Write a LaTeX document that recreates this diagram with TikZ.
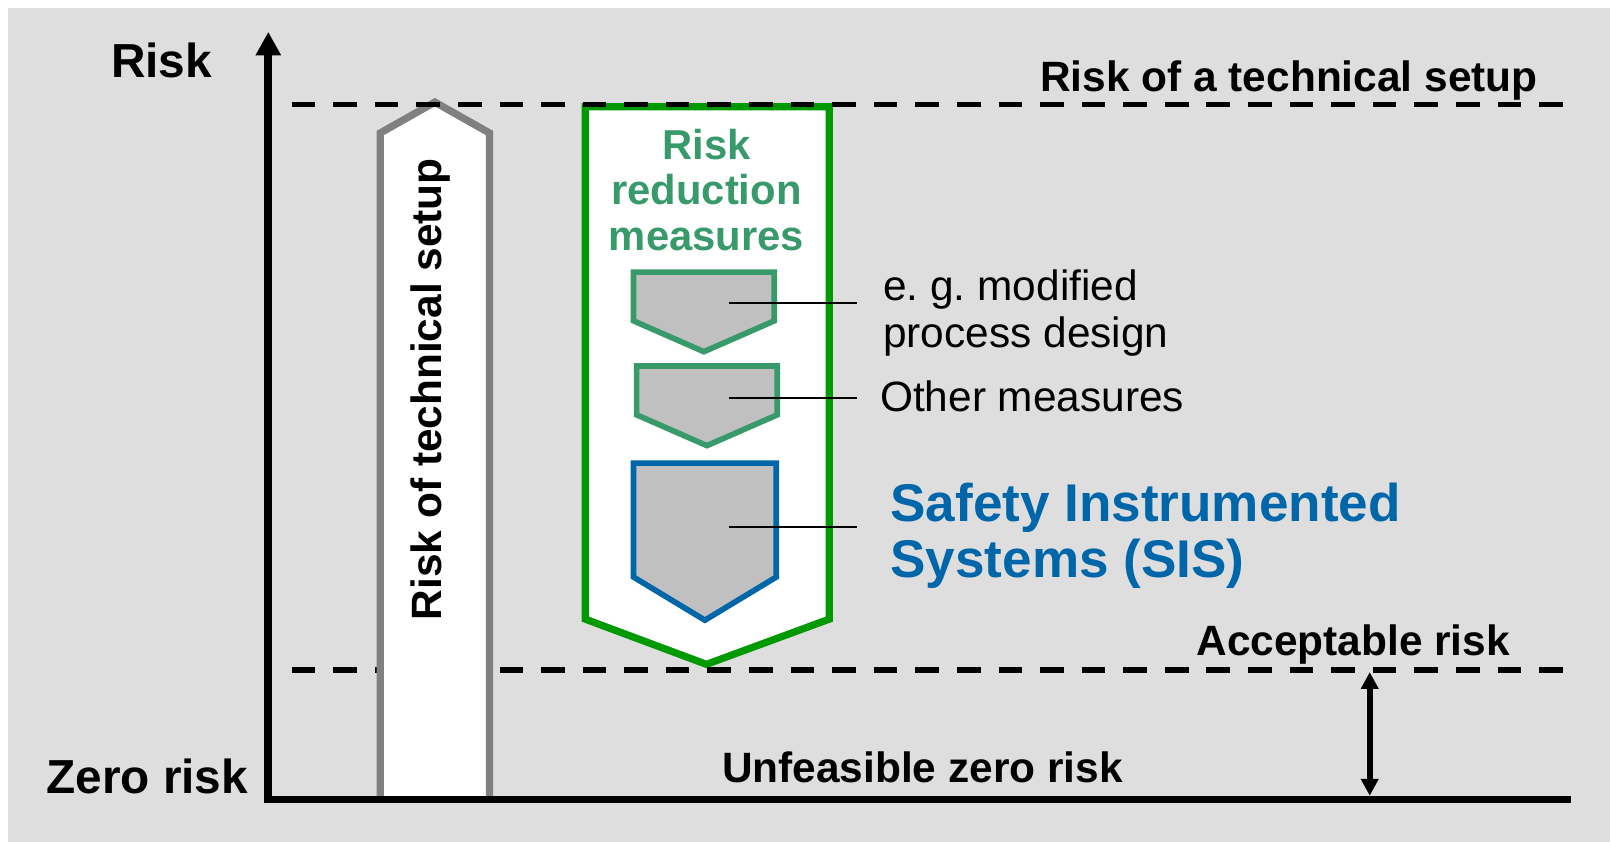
\documentclass[tikz,border=0pt]{standalone}
\usepackage{fontspec}
\setmainfont{Liberation Sans}
\usetikzlibrary{arrows.meta}
\definecolor{bgc}{RGB}{222,222,222}
\definecolor{arrowgray}{RGB}{128,128,128}
\definecolor{boxgreen}{RGB}{0,153,0}
\definecolor{txtgreen}{RGB}{56,154,106}
\definecolor{shapefill}{RGB}{192,192,192}
\definecolor{sisblue}{RGB}{0,102,170}
\begin{document}
\frenchspacing
\begin{tikzpicture}[x=1pt,y=-1pt,
  lbl/.style={inner sep=0pt, font=\fontsize{41.3}{45}\selectfont\bfseries},
  biglbl/.style={inner sep=0pt, font=\fontsize{46.5}{50}\selectfont\bfseries},
  plain/.style={inner sep=0pt, font=\fontsize{41.3}{45.5}\selectfont, align=left},
  dline/.style={line width=5pt, dash pattern=on 23pt off 17.5pt},
  pent/.style={line width=5.5pt, fill=shapefill, line join=miter},
  leader/.style={line width=1.8pt, black},
  axisline/.style={line width=7.5pt, line join=miter}]
\useasboundingbox (0,0) rectangle (1568,820);
\fill[bgc] (8,8) rectangle (1568,820);

% green risk reduction box
\draw[boxgreen, line width=7pt, fill=white, line join=miter]
  (570,104) -- (807.6,104) -- (807.6,603) -- (688,647) -- (570,603) -- cycle;
\node[inner sep=0pt, font=\fontsize{40.7}{44.5}\selectfont\bfseries, text=txtgreen, align=center]
  (rrm) at (688,185) {Risk\\reduction\\measures};

% small measure shapes
\draw[pent, draw=txtgreen] (617,265) -- (754,265) -- (754,312.5) -- (685.5,342.5) -- (617,312.5) -- cycle;
\draw[pent, draw=txtgreen] (620,356.5) -- (757,356.5) -- (757,404) -- (688.5,434) -- (620,404) -- cycle;
\draw[pent, draw=sisblue] (617,451) -- (756,451) -- (756,562) -- (686.5,604) -- (617,562) -- cycle;

% labels of measures
\node[plain, anchor=west] (eg) at (860,305) {e. g. modified\\process design};
\node[plain, anchor=base west] (om) at (857,401) {Other measures};
\node[inner sep=0pt, font=\fontsize{51.7}{55}\selectfont\bfseries, text=sisblue, align=left, anchor=west]
  (sis) at (867,522) {Safety Instrumented\\Systems (SIS)};

\coordinate (p1) at (710,295.4); \coordinate (q1) at (835,295.4);
\coordinate (p2) at (710,388); \coordinate (q2) at (835,388);
\coordinate (p3) at (710,513); \coordinate (q3) at (835,513);
\draw[leader] (p1) -- (q1);
\draw[leader] (p2) -- (q2);
\draw[leader] (p3) -- (q3);

% dashed levels
\coordinate (ta) at (284,101.8); \coordinate (tb) at (1536,101.8);
\coordinate (ba) at (284,652.5); \coordinate (bb) at (1536,652.5);
\draw[dline] (ba) -- (bb);

% gray arrow of technical setup risk
\draw[arrowgray, line width=7.1pt, fill=white, line join=miter]
  (370.4,778) -- (370.4,129.5) -- (423.5,99.5) -- (476.7,129.5) -- (476.7,778);
\node[lbl, rotate=90, anchor=base] (rts) at (430,379) {Risk of technical setup};

\draw[dline] (ta) -- (tb);

% axes
\coordinate (ytip) at (261.3,31);
\coordinate (orig) at (261.3,778.6);
\coordinate (xend) at (1530,778.6);
\draw[axisline, -{Triangle[length=23pt,width=23.4pt]}] (xend) -- (orig) -- (ytip);

% acceptable risk gap
\coordinate (g1) at (1334,654.5);
\coordinate (g2) at (1334,775);
\draw[line width=5.8pt, {Triangle[length=16.5pt,width=16.5pt]}-{Triangle[length=16.5pt,width=16.5pt]}] (g1) -- (g2);

% labels
\node[biglbl, anchor=base west] (risk) at (108,75) {Risk};
\node[biglbl, anchor=base west] (zero) at (45,773) {Zero risk};
\node[lbl, anchor=base west] (rtop) at (1013,89) {Risk of a technical setup};
\node[lbl, anchor=base west] (acc) at (1165,638) {Acceptable risk};
\node[lbl, anchor=base west] (unf) at (703,762) {Unfeasible zero risk};
\end{tikzpicture}
\end{document}
